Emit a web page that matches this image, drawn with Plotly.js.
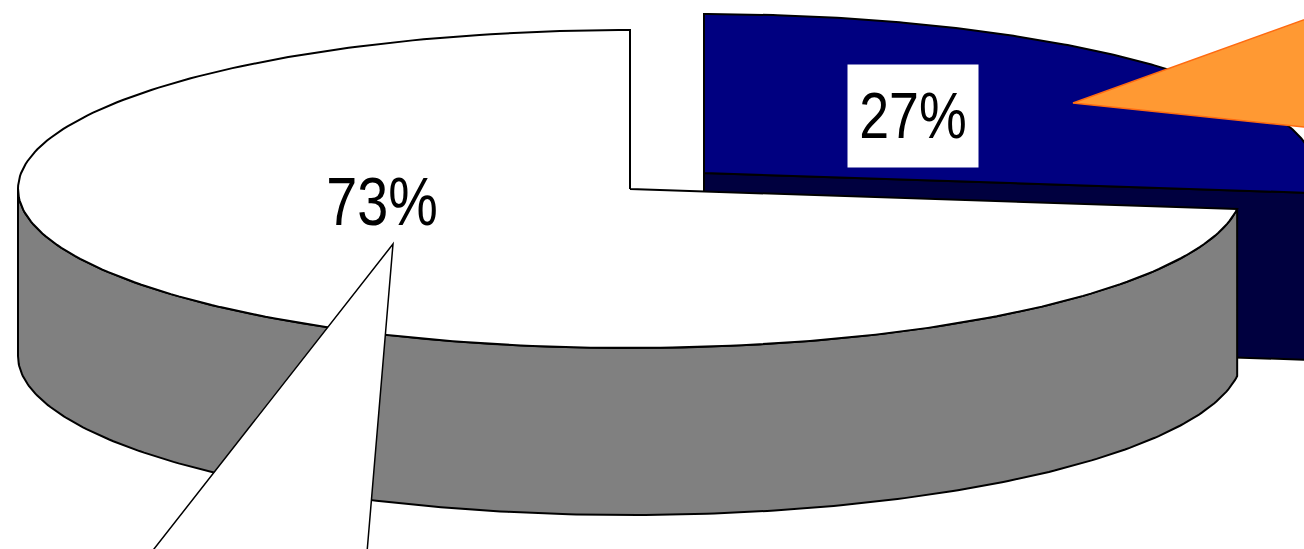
<!DOCTYPE html>
<html>
<head>
<meta charset="utf-8">
<script src="https://cdn.plot.ly/plotly-3.0.1.min.js"></script>
<style>
  html, body { margin: 0; padding: 0; background: #ffffff; }
  #chart { width: 1304px; height: 549px; }
</style>
</head>
<body>
<div id="chart"></div>
<script>
// ---- data ----
const categories = ['Segment A', 'Segment B'];
const values = [27, 73];
const topColors = ['#000080', '#ffffff'];
const sideColors = ['#00003f', '#808080'];
const exploded = [true, false];

// ---- geometry (layout only) ----
const CX = 630, CY = 189;          // pie centre (top face)
const RX = 612, RY = 159;          // ellipse radii
const DEPTH = 167;                 // extrusion height
const EXPLODE = [74, -16];         // offset of exploded slice
const N = 240;

const total = values.reduce((a, b) => a + b, 0);
const rad = d => d * Math.PI / 180;

function pt(c, th, dz) {
  return [c[0] + RX * Math.sin(rad(th)), c[1] - RY * Math.cos(rad(th)) + (dz || 0)];
}
function arc(c, a0, a1, dz) {
  const out = [];
  for (let i = 0; i <= N; i++) out.push(pt(c, a0 + (a1 - a0) * i / N, dz));
  return out;
}
function poly(points, fill, lw) {
  return {
    type: 'scatter', mode: 'lines', fill: 'toself', fillcolor: fill,
    x: points.map(p => p[0]), y: points.map(p => p[1]),
    line: { color: '#000000', width: lw || 2 }, hoverinfo: 'skip', showlegend: false
  };
}

// slices
let cum = 0;
const slices = values.map((v, i) => {
  const s = cum, e = cum + 360 * v / total;
  cum = e;
  const c = exploded[i] ? [CX + EXPLODE[0], CY + EXPLODE[1]] : [CX, CY];
  return { i, s, e, c, mid: (s + e) / 2 };
});
// back to front
slices.sort((p, q) => Math.cos(rad(q.mid)) - Math.cos(rad(p.mid)));

const traces = [];
slices.forEach(sl => {
  const { i, s, e, c } = sl;
  // outer wall (front half only)
  const w0 = Math.max(s, 90), w1 = Math.min(e, 270);
  if (w1 > w0) {
    const top = arc(c, w0, w1, 0);
    const bot = arc(c, w1, w0, DEPTH);
    traces.push(poly(top.concat(bot, [top[0]]), sideColors[i]));
  }
  // radial cut faces
  const faces = [];
  if (Math.sin(rad(s)) < -1e-6) faces.push(s);
  if (Math.sin(rad(e)) > 1e-6) faces.push(e);
  faces.forEach(f => {
    const p = pt(c, f, 0), pb = pt(c, f, DEPTH);
    traces.push(poly([c, p, pb, [c[0], c[1] + DEPTH], c], sideColors[i]));
  });
  // top face
  const rim = arc(c, s, e, 0);
  traces.push(poly([c].concat(rim, [c]), topColors[i]));
});

// labels
const labelPos = [[913, 116], [382, 201]];
const labelSquash = [0.84, 0.82];
const annotations = values.map((v, i) => {
  const a = {
    x: labelPos[i][0], y: labelPos[i][1], xref: 'x', yref: 'y',
    text: v + '%', showarrow: false,
    font: { family: '"Liberation Sans Narrow", "Arial Narrow", "Liberation Sans", Arial, sans-serif', size: i === 0 ? 64 : 68, color: '#000000' },
    xanchor: 'center', yanchor: 'middle'
  };
  if (i === 0) { a.bgcolor = '#ffffff'; a.width = 130; a.height = 102; a.borderpad = 0; }
  return a;
});

// callout pointers (decoration)
const shapes = [
  { type: 'path', xref: 'x', yref: 'y', path: 'M1073,103 L1420,-22 L1420,139 Z',
    fillcolor: '#ff9933', line: { color: '#ff6a10', width: 1.5 }, layer: 'above' },
  { type: 'path', xref: 'x', yref: 'y', path: 'M393,244 L114,600 L363,600 Z',
    fillcolor: '#ffffff', line: { color: '#000000', width: 1.5 }, layer: 'above' }
];

const layout = {
  width: 1304, height: 549,
  margin: { l: 0, r: 0, t: 0, b: 0 },
  paper_bgcolor: '#ffffff', plot_bgcolor: '#ffffff',
  xaxis: { range: [0, 1304], visible: false, fixedrange: true },
  yaxis: { range: [549, 0], visible: false, fixedrange: true },
  showlegend: false, hovermode: false,
  shapes, annotations
};

Plotly.newPlot('chart', traces, layout, { staticPlot: true, displayModeBar: false }).then(gd => {
  // condense label glyphs horizontally (narrow typeface look)
  const texts = gd.querySelectorAll('.annotation-text');
  texts.forEach((t, k) => {
    const s = labelSquash[k] || 0.82;
    const bb = t.getBBox();
    const cx = bb.x + bb.width / 2;
    t.setAttribute('transform', 'translate(' + (cx * (1 - s)) + ',0) scale(' + s + ',1)');
  });
});
</script>
</body>
</html>
